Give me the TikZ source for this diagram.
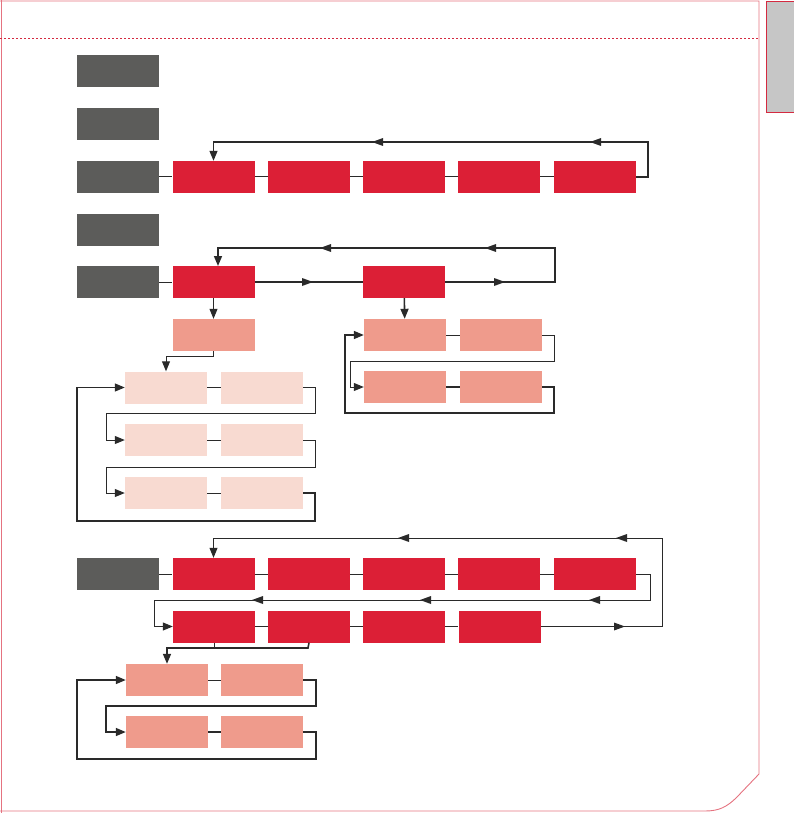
\documentclass[tikz,border=0pt]{standalone}
\usetikzlibrary{arrows.meta}
\definecolor{boxgray}{HTML}{5C5C5A}
\definecolor{boxred}{HTML}{DC1F36}
\definecolor{boxsalmon}{HTML}{EF9B8C}
\definecolor{boxpale}{HTML}{F8DAD1}
\definecolor{linedark}{HTML}{2A2A2A}
\definecolor{framered}{HTML}{E57380}
\definecolor{tabgray}{HTML}{C6C6C6}
\definecolor{tabred}{HTML}{D42A40}

\begin{document}
\begin{tikzpicture}[x=1pt, y=-1pt, >={Triangle[length=10pt,width=8pt]},
  box/.style={minimum width=82pt, minimum height=32pt, inner sep=0pt},
  graybox/.style={box, fill=boxgray},
  redbox/.style={box, fill=boxred},
  salmonbox/.style={box, fill=boxsalmon},
  palebox/.style={box, fill=boxpale},
  link/.style={draw=linedark, line width=1pt},
  heavy/.style={draw=linedark, line width=1.6pt},
  tipl/.pic={\fill[linedark] (0,0) -- (11,-4) -- (11,4) -- cycle;},
  tipr/.pic={\fill[linedark] (0,0) -- (-11,-4) -- (-11,4) -- cycle;}]
  \useasboundingbox (0,0) rectangle (794,813);
  % page frame and tab
  \draw[framered, line width=0.9pt] (1,0) -- (1,813);
  \draw[framered, line width=0.9pt] (0,1) -- (759,1) -- (759,774) -- (737,797)
    .. controls (727,807) and (719,811) .. (705,811) -- (0,811);
  \draw[tabred, dash pattern=on 2pt off 2pt, line width=1pt] (0,39) -- (759,39);
  \draw[tabred, fill=tabgray, line width=0.9pt] (800,1) -- (766,1) -- (766,112) -- (800,112);

  % gray labels
  \foreach \n/\y in {1/71.5,2/124,3/177,4/229.5,5/282,6/574}
    \node[graybox] (g\n) at (118,\y) {};

  % row with loop
  \foreach \n/\x in {1/213.5,2/309,3/404,4/499,5/595}
    \node[redbox] (r\n) at (\x,177) {};
  \draw[link] (g3) -- (r1);
  \foreach \i/\j in {1/2,2/3,3/4,4/5}
    \draw[link] (r\i) -- (r\j);
  \draw[link, line width=1.3pt, ->] (r5.east) -- (648,177) -- (648,142) -- (213.5,142) -- (r1.north);
  \pic at (372,142) {tipl};
  \pic at (590,142) {tipl};

  % two branches
  \node[redbox] (a1) at (213.5,282) {};
  \node[redbox] (b1) at (404,282) {};
  \draw[link] (g5) -- (a1);
  \draw[heavy] (a1) -- (b1);
  \draw[heavy, ->] (b1.east) -- (555,282) -- (555,248) -- (218,248) -- (218,266);
  \pic at (313,282) {tipr};
  \pic at (505,282) {tipr};
  \pic at (320,248) {tipl};
  \pic at (485,248) {tipl};

  % left branch
  \node[salmonbox] (s1) at (213.5,335) {};
  \draw[link, ->] (a1) -- (s1);
  \foreach \n/\y in {1/387.5,2/440,3/493}{
    \node[palebox] (p\n1) at (166,\y) {};
    \node[palebox] (p\n2) at (262,\y) {};
    \draw[link] (p\n1) -- (p\n2);
  }
  \draw[link, ->] (s1.south) -- (213.5,356) -- (166,356) -- (p11.north);
  \draw[link, ->] (p12.east) -- (315,387.5) -- (315,413) -- (106,413) -- (106,440) -- (p21.west);
  \draw[link, ->] (p22.east) -- (315,440) -- (315,467) -- (106,467) -- (106,493) -- (p31.west);
  \draw[link, line width=1.3pt, ->] (p32.east) -- (315,493) -- (315,521) -- (77,521) -- (77,387.5) -- (p11.west);

  % right branch
  \foreach \n/\y in {1/335,2/387}{
    \node[salmonbox] (t\n1) at (405,\y) {};
    \node[salmonbox] (t\n2) at (501,\y) {};
  }
  \draw[heavy, ->] (b1) -- (t11);
  \draw[link] (t11) -- (t12);
  \draw[heavy] (t21) -- (t22);
  \draw[link, ->] (t12.east) -- (554,335) -- (554,361) -- (350,361) -- (350,387) -- (t21.west);
  \draw[heavy, ->] (t22.east) -- (554,387) -- (554,413) -- (345,413) -- (345,335) -- (t11.west);

  % lower block
  \foreach \n/\x in {1/213.5,2/309,3/404,4/499,5/595}
    \node[redbox] (c\n) at (\x,574) {};
  \foreach \n/\x in {1/214,2/309,3/404,4/499.5}
    \node[redbox] (d\n) at (\x,626.5) {};
  \draw[link] (g6) -- (c1);
  \foreach \i/\j in {1/2,2/3,3/4,4/5}
    \draw[link] (c\i) -- (c\j);
  \foreach \i/\j in {1/2,2/3,3/4}
    \draw[heavy] (d\i) -- (d\j);
  \draw[link, ->] (c5.east) -- (650,574) -- (650,600) -- (154,600) -- (154,626.5) -- (d1.west);
  \draw[link, ->] (d4.east) -- (662,626.5) -- (662,538) -- (213.5,538) -- (c1.north);
  \pic at (252,600) {tipl};
  \pic at (420,600) {tipl};
  \pic at (589,600) {tipl};
  \pic at (625,626.5) {tipr};
  \pic at (398,538) {tipl};
  \pic at (616,538) {tipl};

  % salmon loop
  \foreach \n/\y in {1/680,2/732}{
    \node[salmonbox] (e\n1) at (167,\y) {};
    \node[salmonbox] (e\n2) at (262,\y) {};
  }
  \draw[link] (d1.south) -- (214,648);
  \draw[heavy, ->] (d2.south) -- (308,648) -- (167,648) -- (e11.north);
  \draw[link] (e11) -- (e12);
  \draw[heavy] (e21) -- (e22);
  \draw[heavy, ->] (e12.east) -- (316,680) -- (316,706) -- (106,706) -- (106,732) -- (e21.west);
  \draw[heavy, ->] (e22.east) -- (316,732) -- (316,759) -- (77,759) -- (77,680) -- (e11.west);
\end{tikzpicture}
\end{document}
